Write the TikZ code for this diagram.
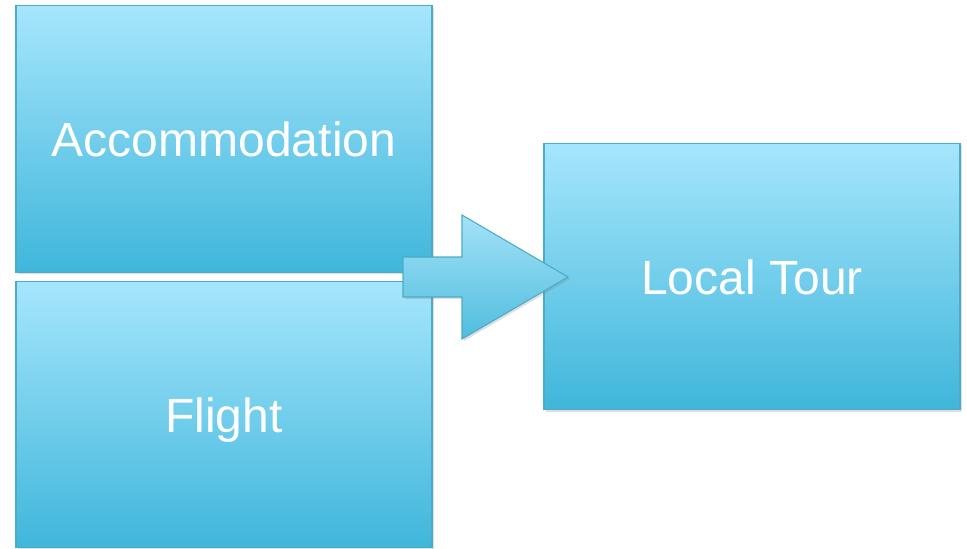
\documentclass[tikz,border=0pt]{standalone}
\usepackage{fontspec}
\setmainfont{Liberation Sans}
\usetikzlibrary{shadows}
\definecolor{boxtop}{HTML}{A6E6FC}
\definecolor{boxbot}{HTML}{3FB6DB}
\definecolor{boxline}{HTML}{4BACC6}
\definecolor{arrtop}{HTML}{A3E2F7}
\definecolor{arrbot}{HTML}{50BDDE}
\begin{document}
\begin{tikzpicture}[x = 0.75pt, y = -0.75pt,
		block/.style = {draw = boxline, line width = 0.8pt, top color = boxtop, bottom color = boxbot,
			minimum width = 312pt, minimum height = 200pt, inner sep = 0pt, text = white,
			font = \fontsize{36}{40}\selectfont, text height = 27pt, text depth = 0pt,
			drop shadow = {opacity = 0.25, shadow xshift = 1.5pt, shadow yshift = -1.5pt}}]
		\useasboundingbox (0,0) rectangle (967,549);
		\node [block] (acc) at (224,139) {Accommodation};
		\node [block] (flight) at (224,414.5) {Flight};
		\node [block] (tour) at (752,276.5) {Local Tour};
		\coordinate (tail) at (403,277);
		\coordinate (tip) at (568,277);
		\draw [boxline, line width = 0.8pt, top color = arrtop, bottom color = arrbot,
			drop shadow = {opacity = 0.25, shadow xshift = 1.5pt, shadow yshift = -1.5pt}]
			(tail) ++(0,-20) -- ++(59,0) -- ++(0,-42) -- (tip) -- ++(-106,62) -- ++(0,-42) -- ++(-59,0) -- cycle;
	\end{tikzpicture}
\end{document}
